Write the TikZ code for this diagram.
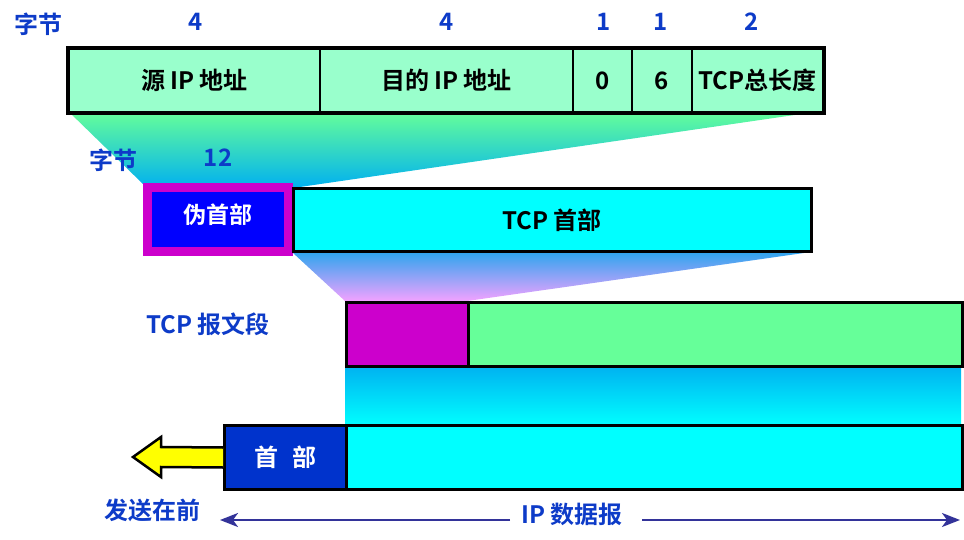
\documentclass[tikz,border=0pt]{standalone}
\usepackage{fontspec}
\setmainfont{Noto Sans CJK SC}[BoldFont={Noto Sans CJK SC Bold}]
\usetikzlibrary{arrows.meta}
\definecolor{lbl}{HTML}{0D3BC8}
\definecolor{mint}{HTML}{99FFCC}
\definecolor{gtop}{HTML}{66FF99}
\definecolor{gbot}{HTML}{00B0F0}
\definecolor{ptop}{HTML}{2EA4EE}
\definecolor{pbot}{HTML}{F2A2FF}
\definecolor{mag}{HTML}{CC00CC}
\definecolor{segg}{HTML}{66FF99}
\definecolor{iph}{HTML}{0033CC}
\definecolor{arrc}{HTML}{333399}
\definecolor{cyn}{HTML}{00FFFF}
\definecolor{pblue}{HTML}{0000FF}
\definecolor{yel}{HTML}{FFFF00}
\begin{document}
\begin{tikzpicture}[x=1pt,y=-1pt,
  every node/.style={font=\bfseries\fontsize{24}{28}\selectfont},
  cell/.style={draw=black, line width=2pt, inner sep=0pt, anchor=north west},
  outline/.style={draw=black, line width=3.5pt},
  lab/.style={text=lbl},
  boxtxt/.style={font=\bfseries\fontsize{24}{28}\selectfont}]
\useasboundingbox (0,0) rectangle (964,540);

% gradients
\shade[top color=gtop, bottom color=gbot] (68,111) -- (822,111) -- (293,188) -- (143,184) -- cycle;
\shade[top color=ptop, bottom color=pbot] (293,253) -- (811,252) -- (467,301) -- (345,301) -- cycle;
\shade[top color=gbot, bottom color=cyn] (345,365) rectangle (961,425);

% top: pseudo header fields
\node[cell, fill=mint, minimum width=251pt, minimum height=63pt, boxtxt] (src) at (68,48) {源 IP 地址};
\node[cell, fill=mint, minimum width=253pt, minimum height=63pt, boxtxt] (dst) at (319,48) {目的 IP 地址};
\node[cell, fill=mint, minimum width=59pt, minimum height=63pt, boxtxt] (zero) at (572,48) {0};
\node[cell, fill=mint, minimum width=60pt, minimum height=63pt, boxtxt] (six) at (631,48) {6};
\node[cell, fill=mint, minimum width=131pt, minimum height=63pt, boxtxt] (len) at (691,48) {TCP总长度};
\draw[outline] (src.north west) rectangle (len.south east);

\node[lab] (b1) at (38,24) {字节};
\node[lab] (n1) at (196,22) {4};
\node[lab] (n2) at (447,22) {4};
\node[lab] (n3) at (604,22) {1};
\node[lab] (n4) at (661,22) {1};
\node[lab] (n5) at (752,22) {2};

% middle
\node[lab] (b2) at (113,160) {字节};
\node[lab] (n12) at (218,158) {12};
\node[draw=mag, line width=9pt, fill=pblue, minimum width=141pt, minimum height=64pt, inner sep=0pt, text=white, font=\bfseries\fontsize{23}{27}\selectfont] (pseudo) at (218,219.5) {\raisebox{12pt}{伪首部}};
\node[draw=black, line width=3pt, fill=cyn, minimum width=518pt, minimum height=63pt, inner sep=0pt, boxtxt] (tcph) at (552,220.5) {TCP 首部};

% TCP segment
\node[lab] (seglab) at (208,324) {TCP 报文段};
\node[cell, line width=3pt, fill=mag, minimum width=122pt, minimum height=64pt] (segh) at (345,301) {};
\node[cell, line width=3pt, fill=segg, minimum width=494pt, minimum height=64pt] (segd) at (467,301) {};

% IP datagram
\node[cell, line width=3pt, fill=iph, minimum width=122pt, minimum height=64pt, text=white] (iphd) at (223,424) {首\hspace{0.6em}部};
\node[cell, line width=3pt, fill=cyn, minimum width=616pt, minimum height=64pt] (ipdata) at (345,424) {};

% yellow arrow
\draw[fill=yel, line width=2.5pt, line join=miter] ([yshift=10pt]iphd.west) -- (161,447) -- (161,437) -- (133,457) -- (161,477) -- (161,467) -- ([yshift=-10pt]iphd.west);

% bottom labels
\node[lab] (first) at (152,510) {发送在前};
\node[lab] (iplab) at (572,514) {IP 数据报};
\coordinate (la) at (220,520);
\coordinate (ra) at (960,520);
\coordinate (ls) at (510,520);
\coordinate (rs) at (642,520);
\draw[arrc, line width=2.5pt, -{Stealth[length=18pt, width=14pt, inset=5pt]}] (ls) -- (la);
\draw[arrc, line width=2.5pt, -{Stealth[length=18pt, width=14pt, inset=5pt]}] (rs) -- (ra);
\end{tikzpicture}
\end{document}
